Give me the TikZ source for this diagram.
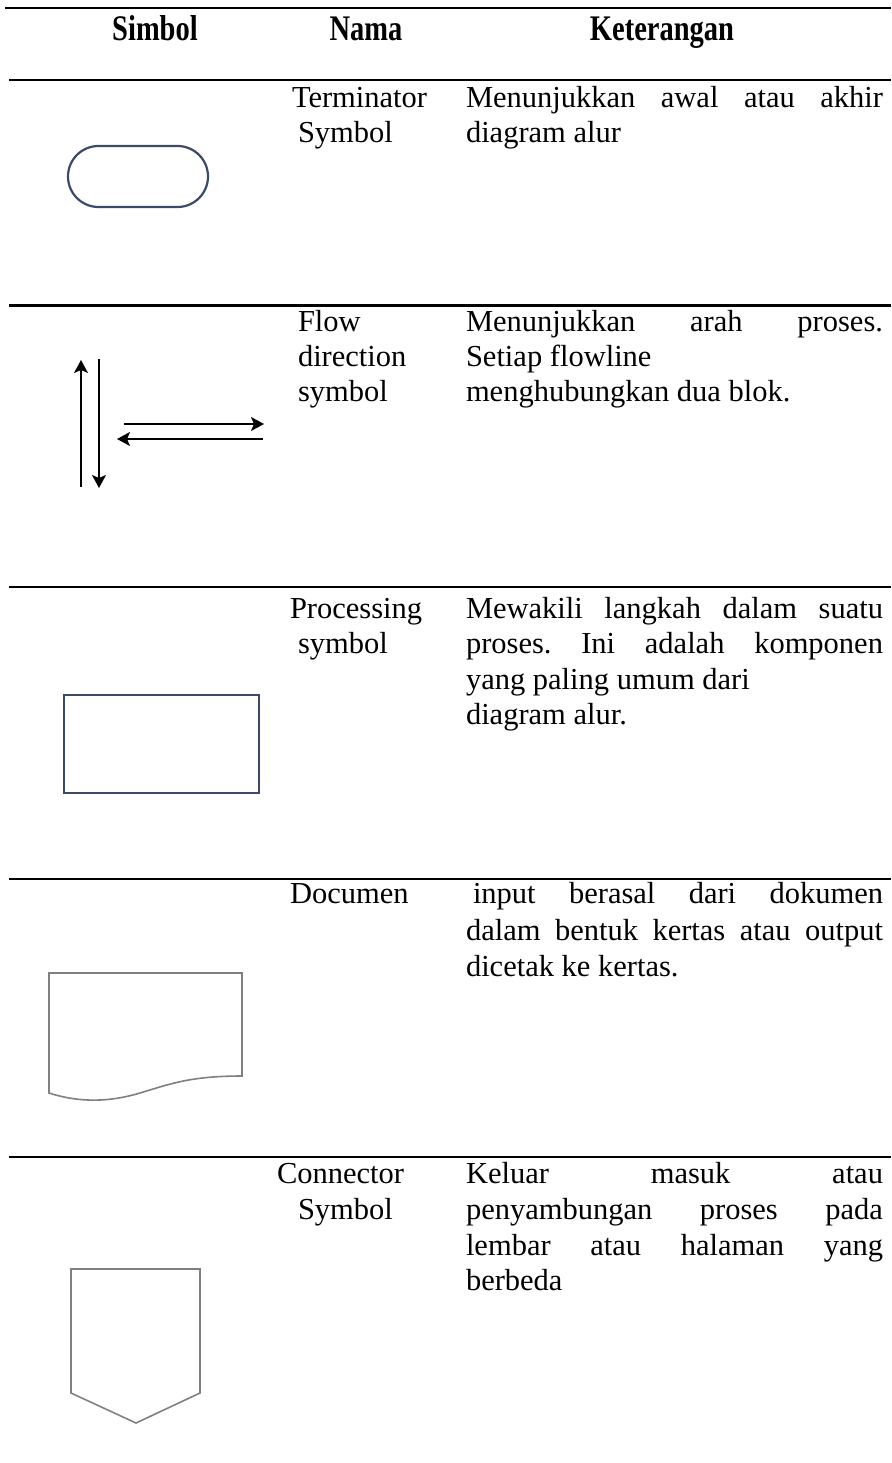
\documentclass[tikz,border=0pt]{standalone}
\usepackage{fontspec}
\setmainfont{Liberation Serif}
\usetikzlibrary{arrows.meta}
\definecolor{navy}{RGB}{59,74,102}
\definecolor{shapegray}{RGB}{128,128,128}
\frenchspacing
\begin{document}
\frenchspacing
\begin{tikzpicture}[x=1pt,y=-1pt,
  rule/.style={line width=2.4pt, black},
  txt/.style={anchor=base west, inner sep=0pt, outer sep=0pt, font=\fontsize{30.5}{36}\selectfont},
  head/.style={anchor=base, inner sep=0pt, font=\bfseries\fontsize{30}{36}\selectfont},
  flowarrow/.style={line width=1.4pt, -{Stealth[length=13pt,width=14pt,inset=3pt]}},
  navyshape/.style={draw=navy, line width=2.2pt},
  grayshape/.style={draw=shapegray, line width=1.6pt}]
\useasboundingbox (0,0) rectangle (891,1463);
\def\jw{417pt}
% rules
\draw[rule] (5,8) -- (891,8);
\draw[rule] (9,80) -- (891,80);
\draw[rule] (9,305.5) -- (891,305.5);
\draw[rule] (9,587) -- (891,587);
\draw[rule] (9,879) -- (891,879);
\draw[rule] (9,1157) -- (891,1157);
% header
\node[head] (h1) at (155,41) {\scalebox{0.95}[1.2]{Simbol}};
\node[head] (h2) at (366,41) {\scalebox{0.95}[1.2]{Nama}};
\node[head] (h3) at (662,41) {\scalebox{0.95}[1.2]{Keterangan}};
% row 1
\draw[navyshape, rounded corners=30.5pt] (68,146) rectangle (208,207);
\node[txt] (n1a) at (292,108) {Terminator};
\node[txt] (n1b) at (298,143) {Symbol};
\node[txt] (d1a) at (466,108) {\makebox[\jw][s]{Menunjukkan awal atau akhir}};
\node[txt] (d1b) at (466,143) {diagram alur};
% row 2
\coordinate (u0) at (81,487); \coordinate (u1) at (81,360);
\coordinate (v0) at (99,359); \coordinate (v1) at (99,488);
\coordinate (r0) at (124,424); \coordinate (r1) at (264,424);
\coordinate (l0) at (263,439); \coordinate (l1) at (117,439);
\draw[flowarrow] (u0) -- (u1);
\draw[flowarrow] (v0) -- (v1);
\draw[flowarrow] (r0) -- (r1);
\draw[flowarrow] (l0) -- (l1);
\node[txt] (n2a) at (298,331) {Flow};
\node[txt] (n2b) at (298,366) {direction};
\node[txt] (n2c) at (298,401) {symbol};
\node[txt] (d2a) at (466,331) {\makebox[\jw][s]{Menunjukkan arah proses.}};
\node[txt] (d2b) at (466,366) {Setiap flowline};
\node[txt] (d2c) at (466,401) {menghubungkan dua blok.};
% row 3
\draw[navyshape] (64,695) rectangle (259,793);
\node[txt] (n3a) at (290,618) {Processing};
\node[txt] (n3b) at (298,653) {symbol};
\node[txt] (d3a) at (466,618) {\makebox[\jw][s]{Mewakili langkah dalam suatu}};
\node[txt] (d3b) at (466,653) {\makebox[\jw][s]{proses. Ini adalah komponen}};
\node[txt] (d3c) at (466,689) {yang paling umum dari};
\node[txt] (d3d) at (466,724) {diagram alur.};
% row 4
\draw[grayshape] (49,1093) -- (49,973) -- (242,973) -- (242,1076)
  .. controls (190,1076) and (170,1084) .. (140,1093)
  .. controls (110,1102) and (80,1103) .. (49,1093) -- cycle;
\node[txt] (n4a) at (290,903) {Documen};
\node[txt] (d4a) at (473,903) {\makebox[410pt][s]{input berasal dari dokumen}};
\node[txt] (d4b) at (466,940) {\makebox[\jw][s]{dalam bentuk kertas atau output}};
\node[txt] (d4c) at (466,976) {dicetak ke kertas.};
% row 5
\draw[grayshape] (71,1269) -- (200,1269) -- (200,1393) -- (136,1423) -- (71,1393) -- cycle;
\node[txt] (n5a) at (277,1183) {Connector};
\node[txt] (n5b) at (298,1219) {Symbol};
\node[txt] (d5a) at (466,1183) {\makebox[\jw][s]{Keluar masuk atau}};
\node[txt] (d5b) at (466,1219) {\makebox[\jw][s]{penyambungan proses pada}};
\node[txt] (d5c) at (466,1255) {\makebox[\jw][s]{lembar atau halaman yang}};
\node[txt] (d5d) at (466,1290) {berbeda};
\end{tikzpicture}
\end{document}
